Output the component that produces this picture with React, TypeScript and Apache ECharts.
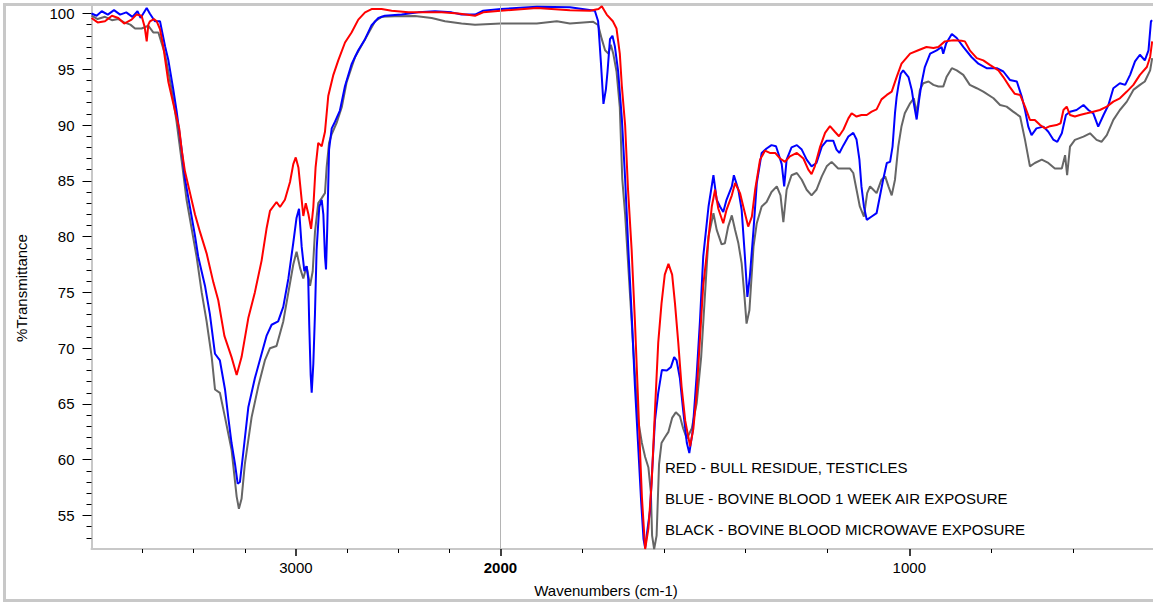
import React, { useEffect, useRef } from "react";
import * as echarts from "echarts";

// ---------- DATA (wavenumber cm-1, % transmittance) ----------
const redWavenumber = [4000, 3970, 3934, 3900, 3869, 3840, 3804, 3780, 3755, 3740, 3730, 3722, 3714, 3695, 3681, 3665, 3649, 3624, 3592, 3571, 3559, 3543, 3518, 3494, 3469, 3437, 3404, 3380, 3350, 3315, 3290, 3266, 3233, 3201, 3168, 3144, 3127, 3095, 3078, 3054, 3029, 3013, 3001, 2988, 2972, 2964, 2952, 2939, 2926, 2915, 2904, 2891, 2874, 2858, 2842, 2817, 2793, 2760, 2728, 2695, 2662, 2630, 2581, 2532, 2450, 2369, 2287, 2206, 2124, 2084, 1999, 1911, 1830, 1781, 1760, 1752, 1740, 1725, 1716, 1708, 1703, 1695, 1688, 1679, 1671, 1664, 1659, 1654, 1646, 1638, 1630, 1622, 1614, 1606, 1598, 1589, 1580, 1573, 1565, 1557, 1548, 1536, 1528, 1520, 1512, 1504, 1496, 1483, 1475, 1467, 1455, 1447, 1434, 1426, 1414, 1402, 1394, 1385, 1377, 1365, 1353, 1341, 1328, 1316, 1304, 1292, 1275, 1259, 1247, 1239, 1231, 1218, 1206, 1194, 1182, 1172, 1161, 1149, 1141, 1129, 1117, 1104, 1092, 1080, 1068, 1055, 1043, 1031, 1019, 998, 978, 958, 941, 929, 913, 892, 872, 864, 852, 835, 819, 803, 782, 770, 754, 742, 729, 717, 705, 693, 680, 668, 656, 640, 630, 623, 615, 607, 595, 583, 566, 550, 534, 517, 501, 485, 468, 452, 436, 419, 411, 406];
const redTransmittance = [99.6, 99.2, 99.3, 99.8, 99.6, 99.1, 99.45, 99.9, 99.8, 98.8, 97.5, 99.0, 99.3, 99.5, 99.3, 98.6, 97.05, 93.85, 91.3, 89.7, 87.8, 85.85, 83.9, 82.0, 80.4, 78.5, 75.9, 74.3, 71.1, 69.2, 67.6, 69.2, 72.7, 75.0, 77.85, 80.7, 82.3, 83.1, 82.65, 83.3, 84.9, 86.5, 87.1, 86.2, 83.3, 81.85, 83.0, 82.0, 80.7, 82.65, 86.2, 88.4, 88.1, 89.4, 92.6, 94.5, 95.8, 97.4, 98.3, 99.45, 100.1, 100.4, 100.4, 100.25, 100.1, 100.1, 100.1, 100.0, 99.8, 100.1, 100.25, 100.5, 100.3, 100.25, 100.4, 100.64, 99.9, 99.3, 98.65, 96.4, 93.5, 90.0, 84.3, 78.8, 72.4, 66.0, 61.2, 56.7, 52.0, 53.85, 58.0, 64.4, 70.5, 74.0, 76.6, 77.55, 76.6, 74.0, 70.5, 66.6, 63.5, 61.2, 62.8, 66.0, 70.8, 75.6, 78.2, 82.7, 84.2, 82.5, 81.2, 82.4, 83.7, 84.8, 83.9, 82.1, 80.9, 81.8, 84.2, 86.9, 87.7, 87.5, 87.5, 87.0, 86.7, 87.2, 87.5, 87.0, 86.0, 85.6, 86.3, 88.07, 89.3, 89.9, 89.4, 89.0, 89.6, 90.6, 91.06, 90.76, 90.9, 90.9, 91.2, 91.4, 92.3, 92.7, 93.0, 94.3, 95.5, 96.4, 96.7, 97.0, 96.9, 97.0, 97.5, 97.6, 97.55, 97.5, 96.7, 96.0, 95.8, 95.4, 94.9, 94.3, 93.4, 92.8, 92.7, 91.65, 90.46, 90.46, 90.0, 89.7, 89.9, 90.0, 90.16, 91.35, 91.65, 90.9, 90.76, 90.9, 91.05, 91.2, 91.35, 91.65, 92.1, 92.4, 93.0, 93.6, 94.5, 95.2, 96.1, 97.5];

const blueWavenumber = [4000, 3975, 3950, 3920, 3890, 3860, 3830, 3800, 3775, 3760, 3730, 3715, 3690, 3665, 3640, 3624, 3600, 3584, 3559, 3543, 3518, 3494, 3478, 3445, 3421, 3396, 3372, 3347, 3331, 3315, 3298, 3285, 3274, 3258, 3233, 3201, 3168, 3144, 3119, 3087, 3070, 3062, 3037, 3013, 2997, 2985, 2972, 2959, 2948, 2940, 2935, 2928, 2923, 2915, 2907, 2899, 2886, 2874, 2866, 2858, 2853, 2847, 2838, 2825, 2809, 2785, 2760, 2728, 2695, 2662, 2630, 2597, 2565, 2483, 2402, 2320, 2239, 2190, 2124, 2084, 1999, 1911, 1830, 1769, 1761, 1754, 1748, 1742, 1738, 1732, 1726, 1720, 1712, 1703, 1695, 1687, 1679, 1671, 1663, 1656, 1650, 1646, 1640, 1634, 1628, 1622, 1614, 1605, 1593, 1583, 1575, 1569, 1561, 1553, 1544, 1538, 1530, 1520, 1512, 1504, 1491, 1479, 1471, 1463, 1455, 1447, 1434, 1429, 1418, 1410, 1402, 1396, 1390, 1381, 1373, 1361, 1349, 1337, 1326, 1318, 1312, 1306, 1300, 1288, 1275, 1263, 1251, 1239, 1227, 1214, 1202, 1186, 1178, 1171, 1161, 1149, 1137, 1129, 1122, 1117, 1111, 1104, 1092, 1080, 1072, 1064, 1055, 1047, 1041, 1035, 1031, 1027, 1021, 1015, 1002, 994, 989, 982, 976, 970, 962, 949, 933, 921, 917, 910, 896, 884, 868, 848, 831, 811, 786, 770, 754, 737, 725, 717, 709, 701, 689, 672, 660, 648, 638, 627, 617, 607, 591, 574, 562, 550, 538, 525, 513, 501, 485, 472, 460, 448, 436, 424, 415, 409, 406];
const blueTransmittance = [100.0, 99.8, 100.2, 99.9, 100.3, 99.9, 100.1, 99.7, 100.2, 99.6, 100.5, 100.0, 99.3, 99.3, 97.05, 95.8, 93.2, 91.3, 87.8, 85.2, 82.6, 80.1, 78.2, 75.6, 73.05, 69.5, 68.9, 66.3, 63.8, 61.5, 59.6, 57.85, 58.0, 60.6, 64.7, 67.3, 69.5, 71.1, 72.1, 72.4, 73.3, 73.7, 76.25, 79.45, 81.7, 82.5, 79.1, 76.9, 77.35, 76.25, 72.1, 67.6, 66.0, 68.6, 73.05, 78.8, 82.65, 83.3, 82.0, 78.2, 77.05, 80.7, 87.8, 89.7, 90.3, 91.3, 93.5, 95.45, 96.7, 97.7, 98.95, 99.6, 99.8, 99.9, 100.1, 100.2, 100.1, 99.9, 99.9, 100.25, 100.4, 100.6, 100.55, 100.25, 99.3, 95.5, 91.9, 93.2, 94.8, 97.7, 98.0, 97.05, 94.8, 90.6, 85.2, 78.8, 73.05, 66.6, 61.2, 56.4, 52.9, 52.1, 53.85, 55.45, 59.6, 63.5, 66.0, 68.05, 68.0, 68.3, 69.2, 68.9, 67.3, 64.4, 61.5, 60.6, 62.5, 67.6, 72.4, 78.2, 82.7, 85.5, 83.3, 82.7, 82.2, 83.3, 84.5, 85.5, 84.2, 82.4, 78.2, 74.6, 76.4, 80.6, 84.8, 87.5, 87.9, 88.2, 88.1, 87.2, 86.5, 84.5, 86.9, 88.0, 88.2, 87.8, 86.9, 86.3, 86.6, 88.07, 88.6, 88.6, 87.8, 87.5, 88.2, 88.97, 89.3, 88.7, 86.9, 84.5, 82.7, 81.5, 81.8, 82.1, 83.6, 85.1, 86.6, 86.7, 88.07, 91.06, 92.5, 93.45, 94.6, 94.9, 94.3, 93.15, 91.95, 90.5, 92.25, 93.75, 95.2, 96.4, 96.7, 97.0, 96.4, 97.3, 98.17, 97.8, 97.0, 96.1, 95.5, 95.1, 95.1, 94.8, 94.04, 93.9, 92.55, 91.35, 89.86, 89.1, 89.7, 89.86, 89.4, 88.7, 88.5, 89.26, 90.9, 91.2, 91.35, 91.8, 91.35, 91.05, 89.86, 90.9, 91.8, 93.3, 93.74, 93.6, 94.5, 95.7, 96.3, 95.8, 96.7, 99.3, 99.4];

const blackWavenumber = [4000, 3970, 3934, 3900, 3869, 3840, 3810, 3787, 3755, 3722, 3698, 3673, 3641, 3608, 3584, 3559, 3535, 3510, 3486, 3461, 3437, 3412, 3396, 3372, 3347, 3315, 3290, 3279, 3266, 3250, 3217, 3184, 3152, 3127, 3095, 3062, 3037, 3013, 2997, 2980, 2964, 2948, 2931, 2918, 2907, 2891, 2874, 2858, 2850, 2838, 2825, 2801, 2776, 2752, 2711, 2662, 2613, 2581, 2516, 2418, 2336, 2271, 2190, 2124, 1999, 1911, 1862, 1830, 1773, 1761, 1752, 1744, 1736, 1730, 1724, 1716, 1708, 1702, 1695, 1687, 1679, 1671, 1663, 1654, 1646, 1638, 1632, 1629, 1624, 1618, 1612, 1606, 1598, 1589, 1580, 1571, 1561, 1553, 1544, 1532, 1520, 1509, 1501, 1491, 1479, 1471, 1459, 1451, 1443, 1434, 1426, 1418, 1410, 1403, 1398, 1391, 1381, 1373, 1361, 1349, 1337, 1324, 1315, 1308, 1300, 1288, 1275, 1263, 1251, 1239, 1227, 1214, 1202, 1190, 1174, 1157, 1145, 1137, 1129, 1121, 1111, 1103, 1096, 1088, 1080, 1068, 1059, 1051, 1043, 1035, 1027, 1019, 1011, 998, 989, 982, 974, 966, 953, 941, 929, 917, 909, 896, 884, 868, 852, 835, 819, 794, 778, 762, 746, 729, 717, 705, 693, 676, 660, 644, 627, 619, 614, 607, 595, 574, 558, 542, 530, 517, 501, 485, 468, 452, 436, 424, 411, 406];
const blackTransmittance = [99.8, 99.5, 99.7, 99.4, 99.5, 99.2, 99.0, 98.65, 98.65, 98.9, 98.3, 98.3, 96.4, 93.2, 90.3, 86.8, 83.3, 80.7, 78.2, 75.0, 72.4, 69.2, 66.3, 66.0, 63.8, 60.9, 56.7, 55.6, 56.5, 59.6, 63.8, 66.6, 68.9, 70.0, 70.2, 72.4, 75.0, 77.5, 78.65, 77.2, 76.25, 77.35, 75.6, 76.9, 80.4, 83.0, 83.45, 83.9, 86.2, 88.4, 89.2, 90.2, 91.6, 93.85, 96.1, 97.7, 99.3, 99.7, 99.75, 99.77, 99.6, 99.3, 99.1, 99.0, 99.1, 99.1, 99.3, 99.1, 99.25, 98.97, 97.7, 96.7, 96.4, 97.2, 96.4, 94.8, 91.6, 85.2, 82.0, 77.2, 72.4, 67.6, 63.5, 61.5, 60.25, 59.3, 57.05, 53.2, 52.0, 53.2, 59.6, 61.5, 62.0, 62.5, 63.75, 64.25, 63.9, 62.8, 61.9, 62.8, 65.05, 69.2, 74.0, 80.0, 82.1, 80.6, 79.3, 79.4, 80.9, 81.9, 80.6, 79.4, 77.6, 74.6, 72.2, 73.4, 79.1, 81.2, 82.7, 83.1, 84.0, 84.5, 83.7, 81.3, 84.2, 85.5, 85.7, 85.1, 84.2, 83.7, 84.2, 85.4, 86.3, 86.7, 86.1, 86.1, 86.1, 85.7, 84.2, 82.7, 81.8, 83.9, 84.5, 84.2, 83.9, 85.1, 85.4, 84.5, 83.7, 85.1, 88.07, 89.9, 91.06, 91.95, 92.4, 91.06, 93.15, 93.75, 93.9, 93.6, 93.45, 93.45, 94.3, 95.1, 94.9, 94.5, 93.6, 93.3, 93.0, 92.4, 91.8, 91.65, 91.2, 90.76, 88.67, 86.3, 86.6, 86.9, 86.6, 86.1, 86.1, 87.3, 85.5, 88.07, 88.67, 88.96, 89.26, 88.67, 88.5, 89.1, 90.46, 91.35, 92.1, 93.15, 93.6, 93.9, 94.9, 96.0];

const majorWavenumberTicks = [3000, 2000, 1000];
const minorWavenumberTicks = [3750, 3500, 3250, 2750, 2500, 2250, 1800, 1600, 1400, 1200, 800, 600];
const majorTransmittanceTicks = [55, 60, 65, 70, 75, 80, 85, 90, 95, 100];
const minorTransmittanceTicks = [53, 54, 56, 57, 58, 59, 61, 62, 63, 64, 66, 67, 68, 69, 71, 72, 73, 74, 76, 77, 78, 79, 81, 82, 83, 84, 86, 87, 88, 89, 91, 92, 93, 94, 96, 97, 98, 99];

const legendLines = [
  "RED - BULL RESIDUE, TESTICLES",
  "BLUE - BOVINE BLOOD 1 WEEK AIR EXPOSURE",
  "BLACK - BOVINE BLOOD MICROWAVE EXPOSURE",
];

// Split wavenumber scale: 4000-2000 compressed by half, 2000-400 full.
const toAxis = (w: number) => (w >= 2000 ? (4000 - w) / 2 : 1000 + (2000 - w));
const fromAxis = (p: number) => Math.round(p <= 1000 ? 4000 - 2 * p : 2000 - (p - 1000));

const FONT = "'Liberation Sans', Arial, Helvetica, sans-serif";
const AXIS_GREY = "#c8c8c8";

export default function App() {
  const ref = useRef<HTMLDivElement>(null);

  useEffect(() => {
    if (!ref.current) return;
    const chart = echarts.init(ref.current, undefined, { renderer: "svg" });
    const mk = (ws: number[], ts: number[]) => ws.map((w, i) => [toAxis(w), ts[i]]);
    const xMin = 0;
    const xMax = toAxis(404);
    const yMin = 52;
    const yMax = 100.85;

    const line = (name: string, color: string, data: number[][], z: number, extra: any = {}) => ({
      name,
      type: "line",
      data,
      xAxisIndex: 0,
      yAxisIndex: 0,
      showSymbol: false,
      symbol: "none",
      clip: false,
      z,
      lineStyle: { color, width: 2 },
      itemStyle: { color },
      ...extra,
    });

    chart.setOption({
      animation: false,
      backgroundColor: "#ffffff",
      grid: { left: 91.5, right: 0, top: 4, bottom: 53, containLabel: false },
      xAxis: [
        {
          type: "value",
          position: "bottom",
          min: xMin,
          max: xMax,
          axisLine: { show: true, lineStyle: { color: AXIS_GREY, width: 2 } },
          axisTick: {
            show: true,
            customValues: majorWavenumberTicks.map(toAxis),
            length: 7,
            lineStyle: { color: "#000", width: 1.5 },
          },
          axisLabel: {
            show: true,
            customValues: majorWavenumberTicks.map(toAxis),
            formatter: (v: number) => {
              const w = fromAxis(v);
              return w === 2000 ? "{b|2000}" : String(w);
            },
            color: "#000",
            fontSize: 15,
            fontFamily: FONT,
            margin: 11,
            rich: { b: { fontWeight: "bold", fontSize: 15, fontFamily: FONT, color: "#000" } },
          },
          splitLine: { show: false },
        },
        {
          type: "value",
          position: "bottom",
          offset: 0,
          min: xMin,
          max: xMax,
          axisLine: { show: false },
          axisTick: {
            show: true,
            customValues: minorWavenumberTicks.map(toAxis),
            length: 4,
            lineStyle: { color: "#000", width: 1 },
          },
          axisLabel: { show: false, customValues: minorWavenumberTicks.map(toAxis) },
          splitLine: { show: false },
        },
      ],
      yAxis: [
        {
          type: "value",
          position: "left",
          min: yMin,
          max: yMax,
          axisLine: { show: true, lineStyle: { color: AXIS_GREY, width: 2 } },
          axisTick: {
            show: true,
            customValues: majorTransmittanceTicks,
            length: 9,
            lineStyle: { color: "#000", width: 1 },
          },
          axisLabel: {
            show: true,
            customValues: majorTransmittanceTicks,
            color: "#000",
            fontSize: 15,
            fontFamily: FONT,
            margin: 17,
          },
          splitLine: { show: false },
        },
        {
          type: "value",
          position: "left",
          offset: 0,
          min: yMin,
          max: yMax,
          axisLine: { show: false },
          axisTick: {
            show: true,
            customValues: minorTransmittanceTicks,
            length: 5,
            lineStyle: { color: "#000", width: 1 },
          },
          axisLabel: { show: false, customValues: minorTransmittanceTicks },
          splitLine: { show: false },
        },
      ],
      series: [
        line("BLACK - BOVINE BLOOD MICROWAVE EXPOSURE", "#666666", mk(blackWavenumber, blackTransmittance), 2, {
          markLine: {
            silent: true,
            symbol: "none",
            label: { show: false },
            lineStyle: { color: "#b4b4b4", width: 1, type: "solid" },
            data: [{ xAxis: toAxis(2000) }],
          },
        }),
        line("BLUE - BOVINE BLOOD 1 WEEK AIR EXPOSURE", "#0000ff", mk(blueWavenumber, blueTransmittance), 3),
        line("RED - BULL RESIDUE, TESTICLES", "#ff0000", mk(redWavenumber, redTransmittance), 4),
      ],
      graphic: [
        { type: "line", shape: { x1: 3, y1: 4.5, x2: 1153, y2: 4.5 }, style: { stroke: AXIS_GREY, lineWidth: 3 }, silent: true },
        { type: "line", shape: { x1: 4.5, y1: 3, x2: 4.5, y2: 601 }, style: { stroke: AXIS_GREY, lineWidth: 3 }, silent: true },
        { type: "line", shape: { x1: 3, y1: 600.5, x2: 1153, y2: 600.5 }, style: { stroke: AXIS_GREY, lineWidth: 3 }, silent: true },
        {
          type: "text",
          x: 21,
          y: 288,
          rotation: Math.PI / 2,
          style: { text: "%Transmittance", fill: "#000", fontSize: 15, fontFamily: FONT, textAlign: "center", textVerticalAlign: "middle" },
        },
        {
          type: "text",
          x: 606,
          y: 590,
          style: { text: "Wavenumbers (cm-1)", fill: "#000", fontSize: 15, fontFamily: FONT, textAlign: "center", textVerticalAlign: "middle" },
        },
        ...legendLines.map((t, i) => ({
          type: "text",
          x: 665,
          y: 467 + i * 31,
          z: 10,
          style: { text: t, fill: "#000", fontSize: 15, fontFamily: FONT, textAlign: "left", textVerticalAlign: "middle" },
        })),
      ],
    });
    return () => chart.dispose();
  }, []);

  return <div ref={ref} style={{ position: "absolute", left: 0, top: 0, width: 1153, height: 602 }} />;
}
